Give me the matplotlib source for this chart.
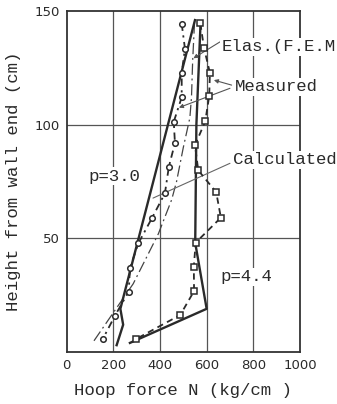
import matplotlib
matplotlib.use("Agg")
import matplotlib.pyplot as plt

# ---- data ----
p30_meas_x = [493, 507, 493, 493, 459, 464, 438, 421, 366, 307, 271, 266, 207, 154]
p30_meas_y = [144.4, 133.4, 122.7, 112.0, 101.3, 91.9, 81.5, 69.8, 59.0, 47.8, 36.9, 26.6, 16.0, 5.6]

p44_meas_x = [573, 589, 614, 611, 594, 550, 564, 641, 661, 553, 545, 546, 487, 299]
p44_meas_y = [144.5, 133.6, 122.8, 112.6, 101.5, 90.9, 79.9, 70.3, 59.1, 48.1, 37.6, 26.8, 16.3, 5.8]

p30_calc_x = [550, 230, 242, 214]
p30_calc_y = [146, 19, 12, 3]

p44_calc_x = [574, 556, 551, 600, 271]
p44_calc_y = [145, 100, 48, 19, 4]

p30_elas_x = [548, 540, 535, 528, 500, 471, 450, 393, 285, 114]
p30_elas_y = [145, 128, 112, 103, 90, 75, 67, 52, 30, 4.5]

x_ticks = [0, 200, 400, 600, 800, 1000]
y_ticks = [50, 100, 150]

mono = ['Liberation Mono', 'DejaVu Sans Mono']
narrow = ['Liberation Sans Narrow', 'DejaVu Sans']
ink = '#2a2a2a'

fig = plt.figure(figsize=(3.37, 4.04), dpi=100)
ax = fig.add_axes([0.198, 0.1287, 0.692, 0.8441])
ax.set_xlim(0, 1000)
ax.set_ylim(0, 150)

for x in [200, 400, 600, 800]:
    ax.axvline(x, color='#555555', lw=0.9, zorder=0)
for y in [50, 100]:
    ax.axhline(y, color='#555555', lw=0.9, zorder=0)

for s in ax.spines.values():
    s.set_linewidth(1.3)
    s.set_color('#333333')

ax.set_xticks(x_ticks)
ax.set_yticks(y_ticks)
ax.tick_params(length=0, pad=5, labelsize=9.5, colors=ink)
for lab in ax.get_xticklabels() + ax.get_yticklabels():
    lab.set_family(narrow)

# lines
ax.plot(p30_calc_x, p30_calc_y, color=ink, lw=1.7, zorder=3)
ax.plot(p44_calc_x, p44_calc_y, color=ink, lw=1.7, zorder=3)
ax.plot(p30_elas_x, p30_elas_y, color='#444444', lw=0.9,
        dashes=(9, 3, 1.5, 3), zorder=2)
ax.plot(p30_meas_x, p30_meas_y, color=ink, lw=1.3, dashes=(4, 2.5, 1.2, 2.5),
        marker='o', ms=4, mfc='white', mec=ink, mew=1.1, zorder=4)
ax.plot(p44_meas_x, p44_meas_y, color=ink, lw=1.3, dashes=(3.5, 2.5),
        marker='s', ms=4, mfc='white', mec=ink, mew=1.1, zorder=4)

# annotations
bb = dict(facecolor='white', edgecolor='none', pad=1)
tk = dict(family=mono, fontsize=12.5, color=ink, va='center', ha='left',
          clip_on=False, bbox=bb, zorder=5)
ax.text(664, 134.3, 'Elas.(F.E.M', **tk)
ax.text(721, 116.6, 'Measured', **tk)
ax.text(714, 84.5, 'Calculated', **tk)
ax.text(93, 77.4, 'p=3.0', **tk)
ax.text(657, 33.1, 'p=4.4', **tk)

arr = dict(arrowstyle='-|>', color='#555555', lw=0.8, mutation_scale=6,
           shrinkA=0, shrinkB=0)
ln = dict(arrowstyle='-', color='#666666', lw=0.8, shrinkA=0, shrinkB=0)
ax.annotate('', xy=(543, 129.2), xytext=(657, 136.4), arrowprops=arr)
ax.annotate('', xy=(631, 119.6), xytext=(707, 117.4), arrowprops=arr)
ax.annotate('', xy=(481, 107.5), xytext=(700, 116), arrowprops=arr)
ax.annotate('', xy=(370, 67.7), xytext=(700, 83), arrowprops=ln)

ax.set_xlabel('Hoop force N (kg/cm )', family=mono, fontsize=12.5, color=ink,
              labelpad=8)
ax.set_ylabel('Height from wall end (cm)', family=mono, fontsize=12.5,
              color=ink, labelpad=10)

fig.savefig('out.png', dpi=100)
